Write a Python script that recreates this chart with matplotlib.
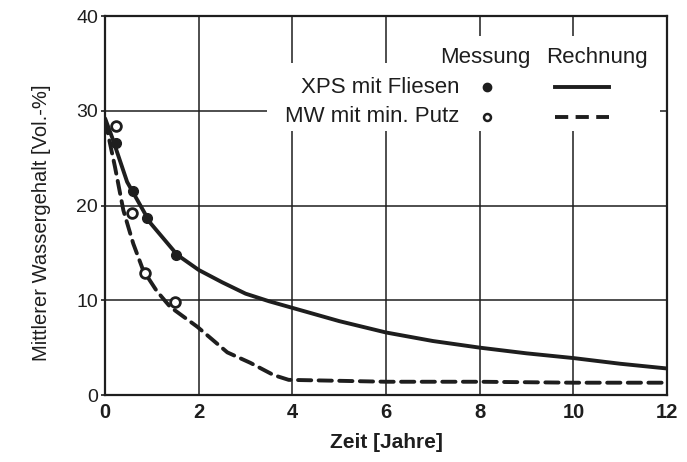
import matplotlib.pyplot as plt
from matplotlib.patches import Rectangle
from matplotlib.lines import Line2D

plt.rcParams['font.family'] = ['Liberation Sans', 'DejaVu Sans']

INK = '#1e1e1e'

# measured water content (Messung)
xps_meas_t = [0.24, 0.60, 0.90, 1.52]
xps_meas = [26.6, 21.5, 18.7, 14.8]
mw_meas_t = [0.24, 0.58, 0.86, 1.50]
mw_meas = [28.4, 19.2, 12.9, 9.8]

# calculated curves (Rechnung)
xps_calc_t = [0, 0.15, 0.47, 0.96, 1.54, 2.0, 2.5, 3.0, 3.5, 4.0, 5.0,
              6.0, 7.0, 8.0, 9.0, 10.0, 11.0, 12.0]
xps_calc = [29.2, 27.2, 22.5, 18.2, 14.8, 13.2, 11.9, 10.7, 9.9, 9.2, 7.8,
            6.6, 5.7, 5.0, 4.4, 3.9, 3.3, 2.8]
mw_calc_t = [0, 0.21, 0.39, 0.60, 0.81, 1.1, 1.39, 1.97, 2.61, 3.1, 3.6,
             3.92, 5.0, 6.0, 8.0, 10.0, 12.0]
mw_calc = [29.0, 24.1, 19.5, 16.0, 13.2, 11.0, 9.3, 7.2, 4.5, 3.4, 2.1,
           1.6, 1.5, 1.4, 1.4, 1.3, 1.3]

x_ticks = [0, 2, 4, 6, 8, 10, 12]
y_ticks = [0, 10, 20, 30, 40]

fig = plt.figure(figsize=(6.87, 4.62), dpi=100)
ax = fig.add_axes([0.153, 0.145, 0.818, 0.82])

ax.set_xlim(0, 12)
ax.set_ylim(0, 40)
ax.set_xticks(x_ticks)
ax.set_yticks(y_ticks)
ax.grid(True, color=INK, linewidth=1.1, zorder=0)
ax.set_axisbelow(True)
for s in ax.spines.values():
    s.set_linewidth(1.6)
    s.set_color(INK)
ax.tick_params(axis='x', length=0, pad=6, labelsize=14.5, colors=INK)
ax.tick_params(axis='y', length=3, width=1.2, pad=2, labelsize=14, colors=INK)
for lbl in ax.get_xticklabels():
    lbl.set_fontweight('bold')

# white area behind the legend block
for x0, y0, w, h in [(0.288, 0.697, 0.70, 0.179), (0.545, 0.87, 0.44, 0.077)]:
    ax.add_patch(Rectangle((x0, y0), w, h, transform=ax.transAxes,
                           facecolor='white', edgecolor='none', zorder=1))

ax.plot(xps_calc_t, xps_calc, color=INK, linewidth=2.8, zorder=3,
        solid_capstyle='round', solid_joinstyle='round')
ax.plot(mw_calc_t, mw_calc, color=INK, linewidth=2.8, zorder=3,
        dashes=(3.4, 1.9), dash_capstyle='round')
ax.plot(xps_meas_t, xps_meas, 'o', color=INK, markersize=7, zorder=4)
ax.plot(mw_meas_t, mw_meas, 'o', markerfacecolor='white', markeredgecolor=INK,
        markeredgewidth=2.0, markersize=7, zorder=4)

ax.set_xlabel('Zeit [Jahre]', fontsize=15, fontweight='bold', color=INK, labelpad=8)
ax.set_ylabel('Mittlerer Wassergehalt [Vol.-%]', fontsize=14.5, color=INK)
ax.yaxis.set_label_coords(-0.097, 0.455)

# hand-made legend
tk = dict(transform=ax.transAxes, fontsize=16, color=INK, va='center', zorder=5)
ax.text(0.676, 0.892, 'Messung', ha='center', **tk)
ax.text(0.876, 0.892, 'Rechnung', ha='center', **tk)
ax.text(0.630, 0.812, 'XPS mit Fliesen', ha='right', **tk)
ax.text(0.630, 0.735, 'MW mit min. Putz', ha='right', **tk)
ax.add_line(Line2D([0.680], [0.812], marker='o', color=INK, markersize=6,
                   transform=ax.transAxes, zorder=5))
ax.add_line(Line2D([0.680], [0.735], marker='o', markerfacecolor='white',
                   markeredgecolor=INK, markeredgewidth=1.8, markersize=5,
                   transform=ax.transAxes, zorder=5))
ax.add_line(Line2D([0.800, 0.897], [0.812, 0.812], color=INK, linewidth=2.8,
                   transform=ax.transAxes, zorder=5))
ax.add_line(Line2D([0.800, 0.897], [0.735, 0.735], color=INK, linewidth=2.8,
                   dashes=(3.4, 1.9), transform=ax.transAxes, zorder=5))

fig.savefig('out.png', dpi=100)
